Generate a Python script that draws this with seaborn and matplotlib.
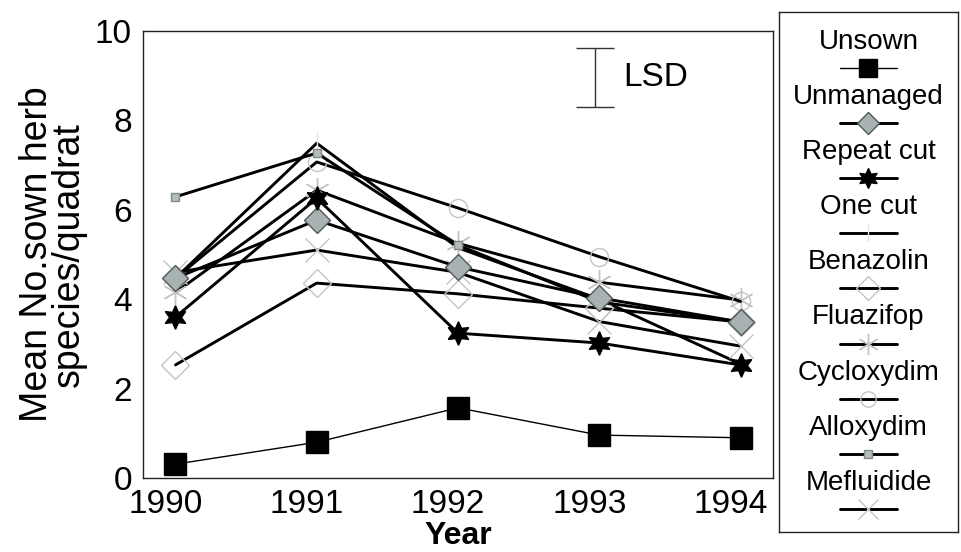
import matplotlib
matplotlib.use("Agg")
import matplotlib.pyplot as plt
import matplotlib.transforms as mtransforms
import numpy as np
import pandas as pd
import seaborn as sns

# data
years = [1990, 1991, 1992, 1993, 1994]
unsown = [0.31, 0.80, 1.57, 0.96, 0.90]
unmanaged = [4.47, 5.77, 4.72, 4.03, 3.49]
repeat_cut = [3.60, 6.26, 3.24, 3.02, 2.53]
one_cut = [4.47, 7.49, 5.15, 4.00, 2.55]
benazolin = [2.53, 4.36, 4.12, 3.80, 3.49]
fluazifop = [4.15, 6.44, 5.25, 4.38, 3.98]
cycloxydim = [4.47, 7.07, 6.04, 4.95, 3.95]
alloxydim = [6.29, 7.27, 5.21, 3.94, 3.49]
mefluidide = [4.60, 5.10, 4.60, 3.50, 2.95]
lsd_year = 1992.97
lsd_mid = 8.96
lsd = 1.32

names = ["Unsown", "Unmanaged", "Repeat cut", "One cut", "Benazolin",
         "Fluazifop", "Cycloxydim", "Alloxydim", "Mefluidide"]
values = [unsown, unmanaged, repeat_cut, one_cut, benazolin,
          fluazifop, cycloxydim, alloxydim, mefluidide]

df = pd.DataFrame({"Year": years * len(names),
                   "Value": sum(values, []),
                   "Treatment": np.repeat(names, len(years))})

light = "#c4c4c4"
star6 = (6, 1, 0)
aster = (6, 2, 0)
# marker, size, face, edge, linewidth, z
styles = {
    "Unsown": ("s", 16, "black", "black", 1.0, 6),
    "Unmanaged": ("D", 13, "#a9b2b2", "#505858", 2.1, 5),
    "Repeat cut": (star6, 17, "black", "black", 2.1, 5),
    "One cut": ("|", 16, "none", "#e2e2e2", 2.1, 3),
    "Benazolin": ("D", 14, "none", light, 2.1, 3),
    "Fluazifop": (aster, 18, "none", light, 2.1, 3),
    "Cycloxydim": ("o", 13, "none", light, 2.1, 3),
    "Alloxydim": ("s", 6, "#b4bcbc", "#808888", 2.1, 4),
    "Mefluidide": ("x", 17, "none", light, 2.1, 3),
}

sns.set_style("white")
plt.rcParams["font.family"] = ["Liberation Sans", "DejaVu Sans"]
for k in ["text.color", "axes.labelcolor", "xtick.color", "ytick.color"]:
    plt.rcParams[k] = "black"

fig = plt.figure(figsize=(9.62, 5.52), dpi=100)
ax = fig.add_axes([143 / 962, 1 - 478 / 552, (773 - 143) / 962, (478 - 31) / 552])

for name in names:
    m, ms, fc, ec, lw, z = styles[name]
    sub = df[df["Treatment"] == name]
    sns.lineplot(data=sub, x="Year", y="Value", ax=ax, color="black",
                 lw=lw, marker=m, markersize=ms, markerfacecolor=fc,
                 markeredgecolor=ec, markeredgewidth=1.0, zorder=z,
                 legend=False)

# LSD bar
ax.errorbar([lsd_year], [lsd_mid], yerr=[[lsd / 2], [lsd / 2]], fmt="none",
            ecolor="#333333", elinewidth=1.0, capsize=14, capthick=1.0)
ax.text(lsd_year + 0.2, lsd_mid, "LSD", fontsize=24, va="center", ha="left")

ax.set_xlim(1989.77, 1994.23)
ax.set_ylim(0, 10)
ax.set_xticks(years)
ax.set_xticklabels([str(y) for y in years])
ax.set_yticks([0, 2, 4, 6, 8, 10])
ax.tick_params(axis="both", length=0, labelsize=24)
ax.tick_params(axis="y", pad=8)
ax.tick_params(axis="x", pad=8)
offset = mtransforms.ScaledTranslation(-10 / 100, 0, fig.dpi_scale_trans)
for lab in ax.get_xticklabels():
    lab.set_transform(lab.get_transform() + offset)
ax.set_xlabel("Year", fontsize=23, fontweight="bold", labelpad=1)
ax.set_ylabel("Mean No.sown herb\nspecies/quadrat", fontsize=27,
              linespacing=0.85, labelpad=6)
for s in ax.spines.values():
    s.set_color("#222222")
    s.set_linewidth(1.0)

# legend: label above each handle
lax = fig.add_axes([779 / 962, 1 - 532 / 552, (958 - 779) / 962, (532 - 12) / 552])
lax.set_xlim(0, 1)
lax.set_ylim(0, 1)
lax.set_xticks([])
lax.set_yticks([])
for s in lax.spines.values():
    s.set_color("#222222")
    s.set_linewidth(1.0)
for i, name in enumerate(names):
    m, ms, fc, ec, lw, z = styles[name]
    ty = 1 - (42 + 55.1 * i - 12) / 520
    hy = 1 - (68 + 55.1 * i - 12) / 520
    lax.text(0.5, ty, name, fontsize=20, ha="center", va="center")
    lax.plot([0.34, 0.5, 0.66], [hy, hy, hy], color="black", lw=lw,
             marker=m, markersize=ms * 0.85, markerfacecolor=fc,
             markeredgecolor=ec, markeredgewidth=1.0, markevery=[1])

fig.savefig("out.png", dpi=100)
